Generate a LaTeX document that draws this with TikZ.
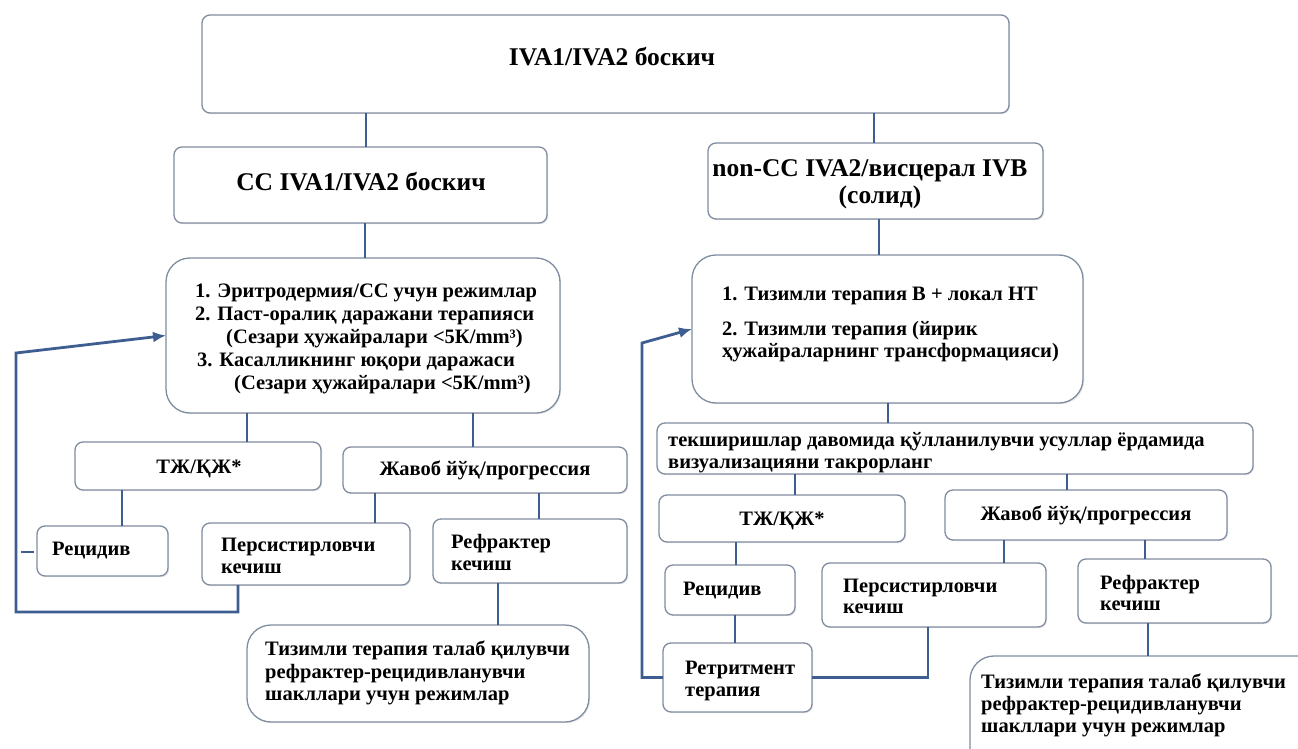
\documentclass[tikz,border=0pt]{standalone}
\usepackage{fontspec}
\setmainfont{Liberation Serif}
\usetikzlibrary{arrows.meta,shadows}
\definecolor{edge}{RGB}{128,140,160}
\definecolor{link}{RGB}{62,94,146}
\tikzset{
  bx/.style={draw=edge, line width=1.3pt, rounded corners=8pt, fill=white,
    inner sep=0pt, outer sep=0pt,
    drop shadow={opacity=0.18, shadow xshift=1.2pt, shadow yshift=-1.2pt}},
  big/.style={bx, rounded corners=24pt},
  lnk/.style={draw=link, line width=2.8pt},
  arr/.style={lnk, -{Latex[length=13pt,width=11pt]}},
  txt/.style={font=\fontsize{20.5}{22.5}\selectfont\bfseries, inner sep=0pt, anchor=base west},
  ctxt/.style={txt, anchor=base},
  ttl/.style={font=\fontsize{25.5}{27}\selectfont\bfseries, inner sep=0pt, anchor=base},
}
% box from its left, top, right and bottom edges (y grows downwards)
\newcommand\mkbox[6][bx]{\node[#1, minimum width={#5-#3}, minimum height={#6-#4}] (#2) at ({(#3+#5)/2},{(#4+#6)/2}) {};}
\begin{document}
\begin{tikzpicture}[x=1pt,y=-1pt]
\useasboundingbox (0,0) rectangle (1298,749);
\fill[white] (0,0) rectangle (1298,749);
\clip (0,0) rectangle (1298,749);

% ---- boxes ----
\mkbox{top}{202}{15}{1009}{113}
\mkbox{cc}{174}{147}{547}{223}
\mkbox{ncc}{708}{143}{1043}{219}
\mkbox[big]{lst}{166}{258}{560}{413}
\mkbox[big]{rlst}{692}{255}{1083}{403}

\mkbox{tjL}{75}{442}{321}{490}
\mkbox{jvL}{343}{447}{627}{493}
\mkbox{recL}{37}{526}{168}{576}
\mkbox{perL}{202}{523}{410}{585}
\mkbox{refL}{433}{519}{627}{583}
\mkbox[big]{finL}{247}{625}{589}{722}

\mkbox{wide}{657}{423}{1253}{474}
\mkbox{tjR}{659}{495}{905}{542}
\mkbox{jvR}{945}{490}{1227}{540}
\mkbox{recR}{665}{565}{795}{615}
\mkbox{perR}{822}{563}{1046}{627}
\mkbox{refR}{1078}{559}{1271}{623}
\mkbox{ret}{663}{643}{812}{712}
\mkbox[big]{finR}{970}{656}{1330}{790}

% ---- texts ----
\node[ttl] (t0) at (612,66) {IVA1/IVA2 боскич};
\node[ttl] (t1) at (361,190) {CC IVA1/IVA2 боскич};
\node[ttl] (t2a) at (870,176) {non-CC IVA2/висцерал IVB};
\node[ttl] (t2b) at (880,203) {(солид)};

\node[txt] (a1) at (195,297) {1. Эритродермия/CC учун режимлар};
\node[txt] (a2) at (195,320) {2. Паст-оралиқ даражани терапияси};
\node[txt] (a3) at (226,343) {(Сезари ҳужайралари <5К/mm³)};
\node[txt] (a4) at (197,366) {3. Касалликнинг юқори даражаси};
\node[txt] (a5) at (234,389) {(Сезари ҳужайралари <5К/mm³)};

\node[txt] (b1) at (722,300) {1. Тизимли терапия B + локал НТ};
\node[txt] (b2) at (722,335) {2. Тизимли терапия (йирик};
\node[txt] (b3) at (722,357) {ҳужайраларнинг трансформацияси)};

\node[ctxt] (c1) at (199,473) {ТЖ/ҚЖ*};
\node[ctxt] (c2) at (485,475) {Жавоб йўқ/прогрессия};
\node[txt] (c3) at (52,555) {Рецидив};
\node[txt] (c4) at (221,551) {Персистирловчи};
\node[txt] (c5) at (221,573) {кечиш};
\node[txt] (c6) at (451,548) {Рефрактер};
\node[txt] (c7) at (451,570) {кечиш};
\node[txt] (c8) at (265,655) {Тизимли терапия талаб қилувчи};
\node[txt] (c9) at (265,678) {рефрактер-рецидивланувчи};
\node[txt] (c10) at (265,700) {шакллари учун режимлар};

\node[txt] (d1) at (668,446) {текширишлар давомида қўлланилувчи усуллар ёрдамида};
\node[txt] (d2) at (668,468) {визуализацияни такрорланг};
\node[ctxt] (d3) at (782,525) {ТЖ/ҚЖ*};
\node[ctxt] (d4) at (1086,520) {Жавоб йўқ/прогрессия};
\node[txt] (d5) at (683,595) {Рецидив};
\node[txt] (d6) at (843,592) {Персистирловчи};
\node[txt] (d7) at (843,613) {кечиш};
\node[txt] (d8) at (1100,589) {Рефрактер};
\node[txt] (d9) at (1100,610) {кечиш};
\node[txt] (d10) at (685,674) {Ретритмент};
\node[txt] (d11) at (685,696) {терапия};
\node[txt] (d12) at (981,688) {Тизимли терапия талаб қилувчи};
\node[txt] (d13) at (981,710) {рефрактер-рецидивланувчи};
\node[txt] (d14) at (981,732) {шакллари учун режимлар};

% ---- connectors, left branch ----
\draw[lnk] (366,0 |- top.south) -- (366,0 |- cc.north);
\draw[lnk] (365,0 |- cc.south) -- (365,0 |- lst.north);
\draw[lnk] (247,0 |- lst.south) -- (247,0 |- tjL.north);
\draw[lnk] (473,0 |- lst.south) -- (473,0 |- jvL.north);
\draw[lnk] (122,0 |- tjL.south) -- (122,0 |- recL.north);
\draw[lnk] (375,0 |- jvL.south) -- (375,0 |- perL.north);
\draw[lnk] (539,0 |- jvL.south) -- (539,0 |- refL.north);
\draw[lnk] (498,0 |- refL.south) -- (498,0 |- finL.north);
\draw[arr] (238,0 |- perL.south) -- (238,612) -- (16,612) -- (16,353) -- (lst.west);
\coordinate (stub) at (21,552);
\draw[lnk, shorten >=3pt] (stub) -- (stub -| recL.west);

% ---- connectors, right branch ----
\draw[lnk] (874,0 |- top.south) -- (874,0 |- ncc.north);
\draw[lnk] (879,0 |- ncc.south) -- (879,0 |- rlst.north);
\draw[lnk] (888,0 |- rlst.south) -- (888,0 |- wide.north);
\draw[lnk] (795,0 |- wide.south) -- (795,0 |- tjR.north);
\draw[lnk] (1067,0 |- wide.south) -- (1067,0 |- jvR.north);
\draw[lnk] (736,0 |- tjR.south) -- (736,0 |- recR.north);
\draw[lnk] (1004,0 |- jvR.south) -- (1004,0 |- perR.north);
\draw[lnk] (1145,0 |- jvR.south) -- (1145,0 |- refR.north);
\draw[lnk] (735,0 |- recR.south) -- (735,0 |- ret.north);
\draw[lnk] (928,0 |- perR.south) |- (ret.east);
\draw[lnk] (1148,0 |- refR.south) -- (1148,0 |- finR.north);
\draw[arr] (ret.west) -- (642,0 |- ret.west) -- (642,343) -- (rlst.west);
\end{tikzpicture}
\end{document}
